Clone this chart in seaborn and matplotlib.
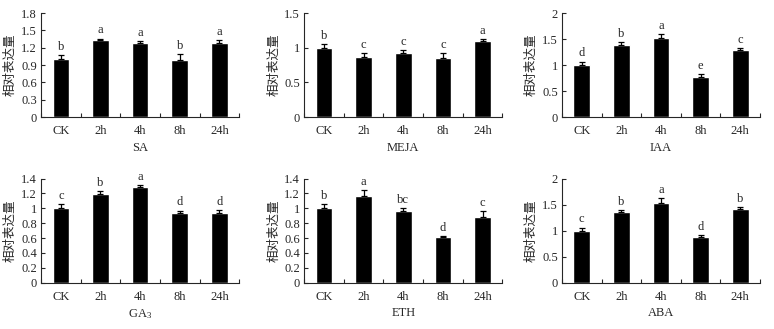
import matplotlib
matplotlib.use("Agg")
import matplotlib.pyplot as plt
import seaborn as sns
import pandas as pd

times = ["CK", "2h", "4h", "8h", "24h"]

sa_mean = [1.00, 1.34, 1.29, 0.99, 1.29]
sa_err = [0.07, 0.02, 0.03, 0.10, 0.05]
sa_sig = ["b", "a", "a", "b", "a"]

meja_mean = [1.00, 0.87, 0.92, 0.86, 1.10]
meja_err = [0.06, 0.05, 0.05, 0.07, 0.03]
meja_sig = ["b", "c", "c", "c", "a"]

iaa_mean = [1.00, 1.38, 1.52, 0.78, 1.29]
iaa_err = [0.07, 0.07, 0.07, 0.04, 0.04]
iaa_sig = ["d", "b", "a", "e", "c"]

ga3_mean = [1.00, 1.19, 1.29, 0.94, 0.94]
ga3_err = [0.06, 0.04, 0.03, 0.03, 0.04]
ga3_sig = ["c", "b", "a", "d", "d"]

eth_mean = [1.00, 1.16, 0.96, 0.61, 0.89]
eth_err = [0.06, 0.09, 0.05, 0.02, 0.07]
eth_sig = ["b", "a", "bc", "d", "c"]

aba_mean = [1.00, 1.35, 1.53, 0.87, 1.42]
aba_err = [0.06, 0.05, 0.09, 0.04, 0.04]
aba_sig = ["c", "b", "a", "d", "b"]

panels = [
    ("SA", sa_mean, sa_err, sa_sig, 1.8, [0, 0.3, 0.6, 0.9, 1.2, 1.5, 1.8], ["0", "0.3", "0.6", "0.9", "1.2", "1.5", "1.8"]),
    ("MEJA", meja_mean, meja_err, meja_sig, 1.5, [0, 0.5, 1, 1.5], ["0", "0.5", "1", "1.5"]),
    ("IAA", iaa_mean, iaa_err, iaa_sig, 2.0, [0, 0.5, 1, 1.5, 2], ["0", "0.5", "1", "1.5", "2"]),
    ("GA$_3$", ga3_mean, ga3_err, ga3_sig, 1.4, [0, 0.2, 0.4, 0.6, 0.8, 1, 1.2, 1.4], ["0", "0.2", "0.4", "0.6", "0.8", "1", "1.2", "1.4"]),
    ("ETH", eth_mean, eth_err, eth_sig, 1.4, [0, 0.2, 0.4, 0.6, 0.8, 1, 1.2, 1.4], ["0", "0.2", "0.4", "0.6", "0.8", "1", "1.2", "1.4"]),
    ("ABA", aba_mean, aba_err, aba_sig, 2.0, [0, 0.5, 1, 1.5, 2], ["0", "0.5", "1", "1.5", "2"]),
]

sns.set_style("ticks")
plt.rcParams["font.family"] = ["Liberation Serif", "Noto Sans CJK SC"]
plt.rcParams["mathtext.fontset"] = "custom"
plt.rcParams["mathtext.rm"] = "Liberation Serif"
plt.rcParams["mathtext.it"] = "Liberation Serif:italic"

fig = plt.figure(figsize=(7.74, 3.29), dpi=100)
lefts = [0.053, 0.393, 0.726]
bottoms = [0.644, 0.141]

for i, (name, mean, err, sig, ymax, yt, ytl) in enumerate(panels):
    ax = fig.add_axes([lefts[i % 3], bottoms[i // 3], 0.256, 0.316])
    df = pd.DataFrame({"time": times, "value": mean})
    sns.barplot(data=df, x="time", y="value", color="black", width=0.42,
                errorbar=None, ax=ax, saturation=1)
    ax.errorbar(range(len(times)), mean, yerr=[[0] * len(err), err], fmt="none",
                ecolor="black", elinewidth=0.9, capsize=2.5, capthick=0.9)
    for j, (m, e, s) in enumerate(zip(mean, err, sig)):
        ax.text(j, m + e + ymax * 0.02, s, ha="center", va="bottom", fontsize=9)
    ax.set_xlim(-0.5, 4.5)
    ax.set_ylim(0, ymax)
    ax.set_yticks(yt)
    ax.set_yticklabels(ytl, fontsize=9)
    ax.set_xticks(range(len(times)))
    ax.set_xticklabels(times, fontsize=9)
    ax.tick_params(axis="x", length=0, pad=6)
    ax.set_xticks([-0.5, 0.5, 1.5, 2.5, 3.5, 4.5], minor=True)
    ax.tick_params(axis="x", which="minor", direction="in", length=3, width=0.8)
    ax.tick_params(axis="y", direction="in", length=3, width=0.8, pad=3)
    ax.set_xlabel(name, fontsize=9, labelpad=3)
    ax.set_ylabel("相对表达量", fontsize=9, family=["Noto Sans CJK SC"], labelpad=3)
    sns.despine(ax=ax)
    for sp in ["left", "bottom"]:
        ax.spines[sp].set_linewidth(0.8)

fig.savefig("out.png", dpi=100)
